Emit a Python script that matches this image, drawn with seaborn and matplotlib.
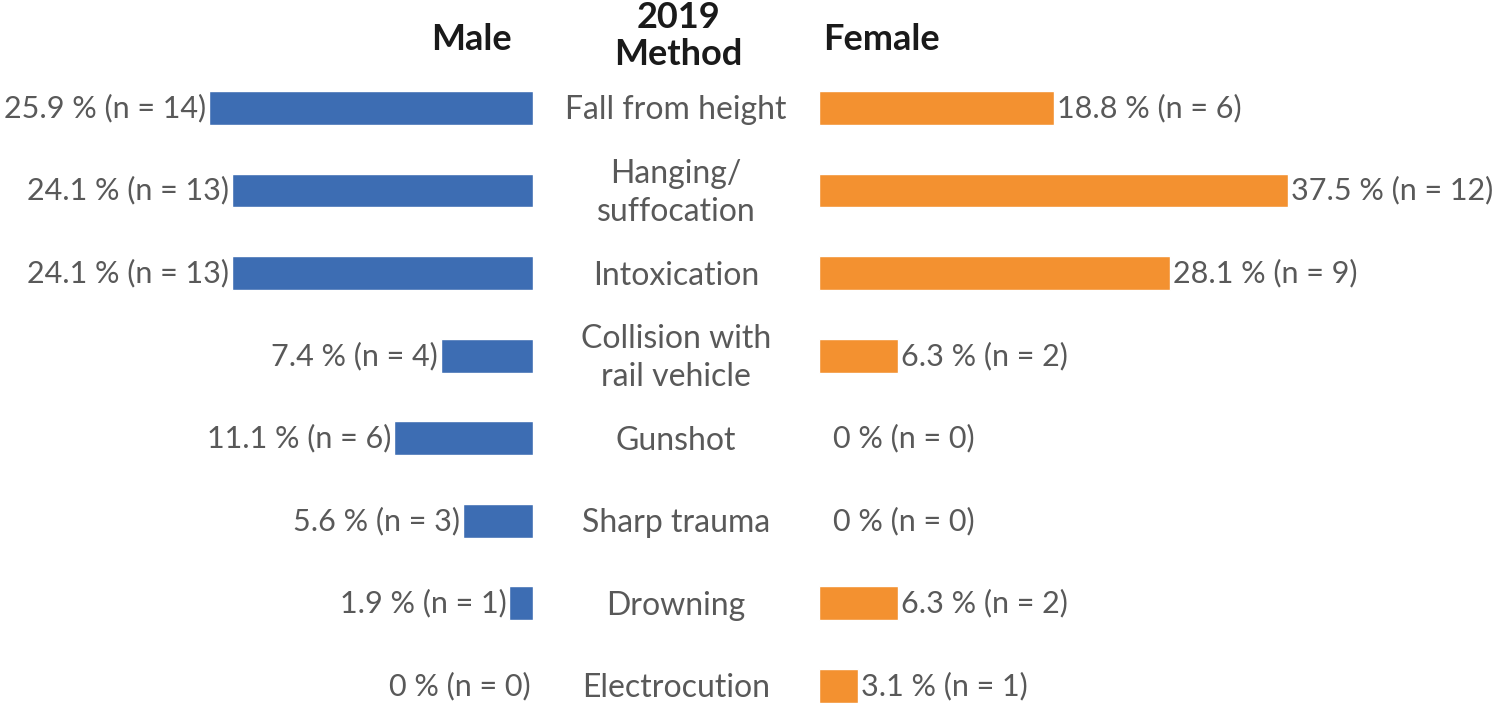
import pandas as pd
import seaborn as sns
import matplotlib.pyplot as plt
import matplotlib.transforms as mtransforms

# Daten (2019, Methode nach Geschlecht)
methods = ["Fall from height", "Hanging/\nsuffocation", "Intoxication",
           "Collision with\nrail vehicle", "Gunshot", "Sharp trauma",
           "Drowning", "Electrocution"]
male_pct = [25.9, 24.1, 24.1, 7.4, 11.1, 5.6, 1.9, 0.0]
male_n = [14, 13, 13, 4, 6, 3, 1, 0]
female_pct = [18.8, 37.5, 28.1, 6.3, 0.0, 0.0, 6.3, 3.1]
female_n = [6, 12, 9, 2, 0, 0, 2, 1]

blue = "#3D6DB3"
orange = "#F39130"
grey = "#595959"

sns.set_theme(style="white")
plt.rcParams['font.family'] = ['Lato', 'DejaVu Sans']

df = pd.DataFrame({"method": methods, "male": male_pct, "female": female_pct})

W, H = 1500, 703
fig = plt.figure(figsize=(W / 100, H / 100), dpi=100)
px = 12.5  # Pixel pro Prozentpunkt
ax_l = fig.add_axes([0, 0, 533 / W, 1])
ax_r = fig.add_axes([819 / W, 0, 681 / W, 1])

sns.barplot(data=df, y="method", x="male", color=blue, width=0.41,
            saturation=1, ax=ax_l)
sns.barplot(data=df, y="method", x="female", color=orange, width=0.41,
            saturation=1, ax=ax_r)

row0, step = 108, 82.55
ylim = ((H - row0) / step, -row0 / step)
for ax in (ax_l, ax_r):
    ax.set_ylim(*ylim)
    ax.set_axis_off()
ax_l.set_xlim(533 / px, 0)
ax_r.set_xlim(0, 681 / px)

fs = 22
for i in range(len(methods)):
    ax_l.annotate(f"{male_pct[i]:g} % (n = {male_n[i]})", (male_pct[i], i),
                  xytext=(-2, 0), textcoords="offset points",
                  ha="right", va="center", fontsize=fs, color=grey)
    off = 10 if female_pct[i] == 0 else 2
    ax_r.annotate(f"{female_pct[i]:g} % (n = {female_n[i]})", (female_pct[i], i),
                  xytext=(off, 0), textcoords="offset points",
                  ha="left", va="center", fontsize=fs, color=grey)

trans = mtransforms.blended_transform_factory(fig.transFigure, ax_l.transData)
for i, m in enumerate(methods):
    fig.text(676 / W, i + 0.03, m, transform=trans, ha="center", va="center",
             fontsize=fs + 1, color=grey, linespacing=1.35)

fig.text(678 / W, 1 - 36 / H, "2019\nMethod", ha="center", va="center",
         fontsize=26, fontweight="bold", color="#1a1a1a", linespacing=1.15)
fig.text(512 / W, 1 - 40 / H, "Male", ha="right", va="center",
         fontsize=26, fontweight="bold", color="#1a1a1a")
fig.text(823 / W, 1 - 40 / H, "Female", ha="left", va="center",
         fontsize=26, fontweight="bold", color="#1a1a1a")

fig.savefig("out.png", dpi=100)
